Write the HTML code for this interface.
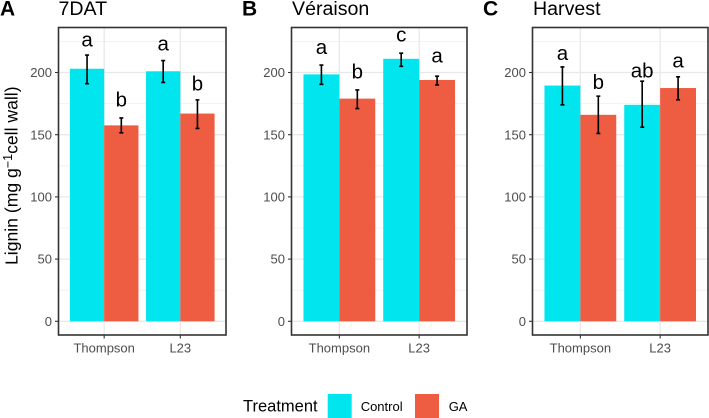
<!DOCTYPE html>
<html lang="en">
<head>
<meta charset="utf-8">
<title>Lignin content bar charts</title>
<style>
html,body{margin:0;padding:0;background:#fff;}
svg{display:block;font-family:"Liberation Sans",Arial,sans-serif;}
</style>
</head>
<body>
<svg id="figure" width="709" height="418" viewBox="0 0 709 418" xmlns="http://www.w3.org/2000/svg">
  <text transform="translate(17.5 265) rotate(-90)" font-size="17.6" fill="#000">Lignin (mg g<tspan dy="-5.5" font-size="12.5">−1</tspan><tspan dy="5.5">cell wall)</tspan></text>
  <g>
    <text x="243" y="411.5" font-size="16.5" fill="#000">Treatment</text>
    <rect x="327.7" y="394" width="24" height="24" fill="#00e5ee"/>
    <text x="360.7" y="411" font-size="13" fill="#000">Control</text>
    <rect x="415" y="394" width="24" height="24" fill="#ee5c42"/>
    <text x="448.7" y="411" font-size="13" fill="#000">GA</text>
  </g>
</svg>
<script>
// Chart data
const categories = ['Thompson', 'L23'];
const yTickLabels = [0, 50, 100, 150, 200];
const yMinorTicks = [25, 75, 125, 175, 225];

// Bars are ordered: Thompson Control, Thompson GA, L23 Control, L23 GA
const dat7Means = [203, 157.5, 201, 167];
const dat7Upper = [214, 163.5, 209.6, 178];
const dat7Lower = [191, 151.5, 192, 155];
const dat7Letters = ['a', 'b', 'a', 'b'];
const dat7LetterLevels = [221, 172.5, 217.5, 185.4];

const veraisonMeans = [198.5, 179, 211, 194];
const veraisonUpper = [206, 186, 215.5, 197];
const veraisonLower = [190.5, 171, 205, 190];
const veraisonLetters = ['a', 'b', 'c', 'a'];
const veraisonLetterLevels = [215, 195, 225, 208];

const harvestMeans = [189.5, 166, 174, 187.5];
const harvestUpper = [204.5, 181, 193, 196.5];
const harvestLower = [174, 151, 156, 178];
const harvestLetters = ['a', 'b', 'ab', 'a'];
const harvestLetterLevels = [210, 186.7, 196, 204];

const NS = 'http://www.w3.org/2000/svg';
const root = document.getElementById('figure');
const panelTop = 27.5;
const panelBottom = 335;
const zeroY = 321.3;
const unitPx = 1.244;
function yScale(v) { return zeroY - v * unitPx; }

function make(parent, tag, attrs, text) {
  const el = document.createElementNS(NS, tag);
  Object.keys(attrs).forEach(function (k) { el.setAttribute(k, attrs[k]); });
  if (text !== undefined) el.textContent = text;
  parent.appendChild(el);
  return el;
}

function drawPanel(key, tagLetter, title, frame, means, upper, lower, letters, levels) {
  const g = make(root, 'g', {});
  
  

  const step = (frame.right - frame.left) / 2.2;
  function xCenter(i) { return frame.left + step * (0.6 + i); }
  const barW = step * 0.45;

  const tag = make(g, 'text', { x: frame.tagX, y: 15.5, 'font-size': 21, 'font-weight': 'bold', fill: '#000' }, tagLetter);
  
  

  const head = make(g, 'text', { x: frame.titleX, y: 15, 'font-size': 19.6, fill: '#000' }, title);
  
  

  yMinorTicks.forEach(function (v) {
    const line = make(g, 'line', { x1: frame.left, x2: frame.right, y1: yScale(v), y2: yScale(v), stroke: '#efefef', 'stroke-width': 0.8 });
    
    
  });
  yTickLabels.forEach(function (v) {
    const line = make(g, 'line', { x1: frame.left, x2: frame.right, y1: yScale(v), y2: yScale(v), stroke: '#e8e8e8', 'stroke-width': 1.3 });
    
    
  });
  categories.forEach(function (c, i) {
    const line = make(g, 'line', { x1: xCenter(i), x2: xCenter(i), y1: panelTop, y2: panelBottom, stroke: '#e8e8e8', 'stroke-width': 1.3 });
    
    
  });

  means.forEach(function (m, i) {
    const cat = Math.floor(i / 2);
    const isGA = i % 2 === 1;
    const x0 = isGA ? xCenter(cat) : xCenter(cat) - barW;
    const bar = make(g, 'rect', { x: x0, y: yScale(m), width: barW, height: zeroY - yScale(m), fill: isGA ? '#ee5c42' : '#00e5ee' });
    
    

    const cx = x0 + barW / 2;
    const err = make(g, 'path', {
      d: 'M' + (cx - 2) + ' ' + yScale(upper[i]) + 'H' + (cx + 2) +
         'M' + cx + ' ' + yScale(upper[i]) + 'V' + yScale(lower[i]) +
         'M' + (cx - 2) + ' ' + yScale(lower[i]) + 'H' + (cx + 2),
      stroke: '#000', 'stroke-width': 1.6, fill: 'none'
    });
    
    

    const lab = make(g, 'text', { x: cx, y: yScale(levels[i]), 'font-size': 20.5, 'text-anchor': 'middle', fill: '#000' }, letters[i]);
    
    
  });

  const border = make(g, 'rect', { x: frame.left, y: panelTop, width: frame.right - frame.left, height: panelBottom - panelTop, fill: 'none', stroke: '#333', 'stroke-width': 1.6 });
  
  

  yTickLabels.forEach(function (v) {
    const tick = make(g, 'line', { x1: frame.left - 3.5, x2: frame.left, y1: yScale(v), y2: yScale(v), stroke: '#333', 'stroke-width': 1.1 });
    
    
    const lab = make(g, 'text', { x: frame.left - 6.5, y: yScale(v) + 4.6, 'font-size': 13, 'text-anchor': 'end', fill: '#4d4d4d' }, String(v));
    
    
  });
  categories.forEach(function (c, i) {
    const tick = make(g, 'line', { x1: xCenter(i), x2: xCenter(i), y1: panelBottom, y2: panelBottom + 3.5, stroke: '#333', 'stroke-width': 1.1 });
    
    
    const lab = make(g, 'text', { x: xCenter(i), y: 352.5, 'font-size': 13, 'text-anchor': 'middle', fill: '#4d4d4d' }, c);
    
    
  });
}

drawPanel('7dat', 'A', '7DAT', { left: 58.5, right: 226, tagX: 0, titleX: 58.5 }, dat7Means, dat7Upper, dat7Lower, dat7Letters, dat7LetterLevels);
drawPanel('veraison', 'B', 'Véraison', { left: 291.5, right: 467, tagX: 242, titleX: 292 }, veraisonMeans, veraisonUpper, veraisonLower, veraisonLetters, veraisonLetterLevels);
drawPanel('harvest', 'C', 'Harvest', { left: 532.5, right: 708, tagX: 483, titleX: 533 }, harvestMeans, harvestUpper, harvestLower, harvestLetters, harvestLetterLevels);
</script>
</body>
</html>
